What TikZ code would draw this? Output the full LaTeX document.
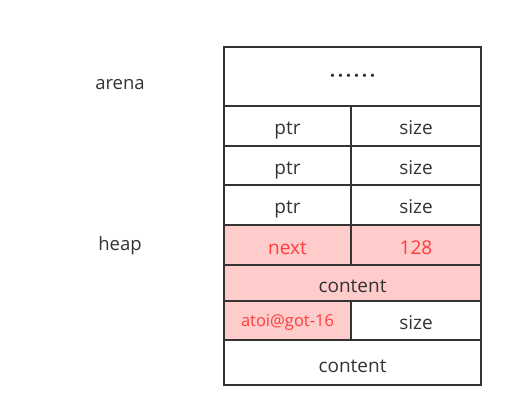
\documentclass[tikz,border=0pt]{standalone}
\usepackage{fontspec}
\setmainfont{Open Sans}
\usepackage{tikz}
\usetikzlibrary{positioning}

\definecolor{ink}{HTML}{333333}
\definecolor{hot}{HTML}{FF3B3B}
\definecolor{blush}{HTML}{FFCCCC}

\newcommand{\sixdots}{\textbf{·\kern2.6pt·\kern2.6pt·\kern2.6pt·\kern2.6pt·\kern2.6pt·}}

\begin{document}
\begin{tikzpicture}[
  x=1pt, y=-1pt,
  cell/.style={draw=ink, line width=1.6pt, anchor=north west, inner sep=0pt,
    outer sep=0pt, text=ink, text height=17pt, text depth=0pt,
    font=\fontsize{19}{19}\selectfont},
  lcell/.style={cell, minimum width=127pt},
  rcell/.style={cell, minimum width=130pt},
  wcell/.style={cell, minimum width=257pt},
  hit/.style={fill=blush, text=hot},
  lbl/.style={text=ink, font=\fontsize{18.5}{18.5}\selectfont}
]
\useasboundingbox (0,0) rectangle (513,418);
% arena part
\node[wcell, minimum height=59pt, text height=11pt] (dots) at (224,47) {\sixdots};
\node[lcell, minimum height=40pt] (ptra) at (224,106) {ptr};
\node[rcell, minimum height=40pt] (sizea) at (351,106) {size};
\node[lcell, minimum height=39pt] (ptrb) at (224,146) {ptr};
\node[rcell, minimum height=39pt] (sizeb) at (351,146) {size};
\node[lcell, minimum height=40pt] (ptrc) at (224,185) {ptr};
\node[rcell, minimum height=40pt] (sizec) at (351,185) {size};
% heap part
\node[lcell, hit, minimum height=40pt, text height=19pt] (next) at (224,225) {next};
\node[rcell, hit, minimum height=40pt, text height=19pt] (len) at (351,225) {128};
\node[wcell, fill=blush, minimum height=36pt, text height=19pt] (conta) at (224,265) {content};
\node[lcell, hit, minimum height=39pt, text height=12pt,
  font=\fontsize{16.5}{16.5}\selectfont] (got) at (224,301) {atoi@got-16};
\node[rcell, minimum height=39pt] (sized) at (351,301) {size};
\node[wcell, minimum height=45pt, text height=20pt] (contb) at (224,340) {content};

\node[lbl] (arena) at (120,85) {arena};
\node[lbl] (heap) at (120,246) {heap};
\end{tikzpicture}
\end{document}
